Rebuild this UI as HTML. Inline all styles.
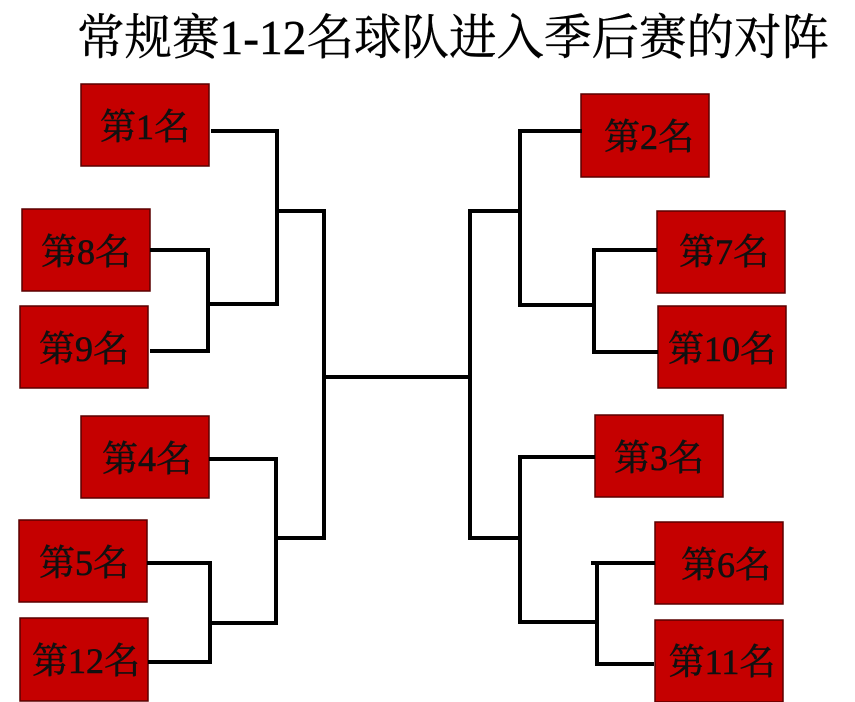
<!DOCTYPE html>
<html><head><meta charset="utf-8">
<style>
html,body{margin:0;padding:0;background:#fff;}
svg{display:block;}
.t{font-family:"Liberation Serif","Noto Serif CJK SC",serif;}
</style></head>
<body>
<svg width="855" height="702" viewBox="0 0 855 702" xmlns="http://www.w3.org/2000/svg">
<text class="t" x="453" y="54" font-size="46" text-anchor="middle" fill="#000" stroke="#000" stroke-width="0.4" textLength="752" lengthAdjust="spacingAndGlyphs" transform="translate(0,-2.7) scale(1,1.05)">常规赛1-12名球队进入季后赛的对阵</text>
<g fill="#c50000" stroke="#5a0000" stroke-width="1.5">
<rect x="81" y="84" width="128" height="82"/>
<rect x="22" y="209" width="128" height="82"/>
<rect x="20" y="306" width="128" height="82"/>
<rect x="81" y="416" width="128" height="82"/>
<rect x="19" y="520" width="128" height="82"/>
<rect x="20" y="618" width="128" height="83"/>
<rect x="581" y="94" width="128" height="83"/>
<rect x="657" y="211" width="128" height="82"/>
<rect x="658" y="306" width="128" height="82"/>
<rect x="595" y="415" width="128" height="82"/>
<rect x="655" y="522" width="128" height="82"/>
<rect x="655" y="620" width="128" height="82"/>
</g>
<g class="t" font-size="36" fill="#111" stroke="#111" stroke-width="0.6" text-anchor="middle">
<text x="145" y="139">第1名</text>
<text x="86" y="264">第8名</text>
<text x="84" y="361">第9名</text>
<text x="147" y="471">第4名</text>
<text x="84" y="575">第5名</text>
<text x="86" y="673">第12名</text>
<text x="649" y="149">第2名</text>
<text x="724" y="264">第7名</text>
<text x="722" y="361">第10名</text>
<text x="659" y="470">第3名</text>
<text x="726" y="577">第6名</text>
<text x="722" y="674">第11名</text>
</g>
<g stroke="#000" stroke-width="4" fill="none" stroke-linecap="square">
<polyline points="213,131 277,131 277,304 208,304"/>
<polyline points="152,250 208,250 208,351 152,351"/>
<line x1="277" y1="211" x2="324" y2="211"/>
<polyline points="211,459 276,459 276,623 210,623"/>
<polyline points="149,563 210,563 210,662 150,662"/>
<line x1="276" y1="538" x2="324" y2="538"/>
<line x1="324" y1="211" x2="324" y2="538"/>
<line x1="324" y1="377" x2="470" y2="377"/>
<line x1="470" y1="211" x2="470" y2="538"/>
<line x1="470" y1="211" x2="520" y2="211"/>
<polyline points="580,131 520,131 520,305 593,305"/>
<polyline points="655,250 594,250 594,352 656,352"/>
<line x1="470" y1="538" x2="520" y2="538"/>
<polyline points="593,457 520,457 520,622 593,622"/>
<polyline points="593,563 653,563"/>
<polyline points="597,563 597,664 652,664"/>
</g>
</svg>
</body></html>
